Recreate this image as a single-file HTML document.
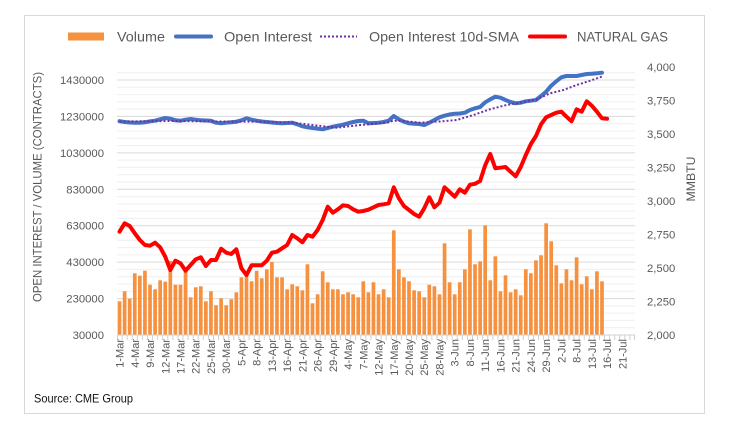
<!DOCTYPE html>
<html><head><meta charset="utf-8"><style>
html,body{margin:0;padding:0;background:#fff;}
svg{display:block;}
text{font-family:"Liberation Sans",Arial,sans-serif;fill:#595959;}
</style></head><body>
<svg width="729" height="432" viewBox="0 0 729 432" xmlns="http://www.w3.org/2000/svg">
<rect x="0" y="0" width="729" height="432" fill="#fff"/>
<rect x="24.5" y="15.5" width="680" height="398" fill="#fff" stroke="#d9d9d9" stroke-width="1"/>

<!-- minor gridlines -->
<g stroke="#efefef" stroke-width="1">
<line x1="117" x2="635" y1="327.71" y2="327.71"/><line x1="117" x2="635" y1="320.43" y2="320.43"/><line x1="117" x2="635" y1="313.14" y2="313.14"/><line x1="117" x2="635" y1="305.86" y2="305.86"/>
<line x1="117" x2="635" y1="291.29" y2="291.29"/><line x1="117" x2="635" y1="284" y2="284"/><line x1="117" x2="635" y1="276.71" y2="276.71"/><line x1="117" x2="635" y1="269.43" y2="269.43"/>
<line x1="117" x2="635" y1="254.86" y2="254.86"/><line x1="117" x2="635" y1="247.57" y2="247.57"/><line x1="117" x2="635" y1="240.29" y2="240.29"/><line x1="117" x2="635" y1="233" y2="233"/>
<line x1="117" x2="635" y1="218.43" y2="218.43"/><line x1="117" x2="635" y1="211.14" y2="211.14"/><line x1="117" x2="635" y1="203.86" y2="203.86"/><line x1="117" x2="635" y1="196.57" y2="196.57"/>
<line x1="117" x2="635" y1="182" y2="182"/><line x1="117" x2="635" y1="174.71" y2="174.71"/><line x1="117" x2="635" y1="167.43" y2="167.43"/><line x1="117" x2="635" y1="160.14" y2="160.14"/>
<line x1="117" x2="635" y1="145.57" y2="145.57"/><line x1="117" x2="635" y1="138.29" y2="138.29"/><line x1="117" x2="635" y1="131" y2="131"/><line x1="117" x2="635" y1="123.71" y2="123.71"/>
<line x1="117" x2="635" y1="109.14" y2="109.14"/><line x1="117" x2="635" y1="101.86" y2="101.86"/><line x1="117" x2="635" y1="94.57" y2="94.57"/><line x1="117" x2="635" y1="87.29" y2="87.29"/>
<line x1="117" x2="635" y1="72.71" y2="72.71"/>
</g>
<!-- major gridlines -->
<g stroke="#d9d9d9" stroke-width="1">
<line x1="117" x2="635" y1="298.57" y2="298.57"/><line x1="117" x2="635" y1="262.14" y2="262.14"/><line x1="117" x2="635" y1="225.71" y2="225.71"/><line x1="117" x2="635" y1="189.29" y2="189.29"/><line x1="117" x2="635" y1="152.86" y2="152.86"/><line x1="117" x2="635" y1="116.43" y2="116.43"/><line x1="117" x2="635" y1="80" y2="80"/>
</g>

<!-- volume bars -->
<g fill="#F6913F">
<rect x="117.69" y="301.3" width="3.7" height="33.7"/><rect x="122.77" y="291.3" width="3.7" height="43.7"/><rect x="127.85" y="298.7" width="3.7" height="36.3"/><rect x="132.93" y="273.3" width="3.7" height="61.7"/><rect x="138.00" y="275.7" width="3.7" height="59.3"/><rect x="143.08" y="270.7" width="3.7" height="64.3"/><rect x="148.16" y="284.7" width="3.7" height="50.3"/><rect x="153.24" y="289.3" width="3.7" height="45.7"/><rect x="158.32" y="280.3" width="3.7" height="54.7"/><rect x="163.40" y="281.7" width="3.7" height="53.3"/>
<rect x="168.47" y="261" width="3.7" height="74"/><rect x="173.55" y="284.7" width="3.7" height="50.3"/><rect x="178.63" y="284.7" width="3.7" height="50.3"/><rect x="183.71" y="271" width="3.7" height="64"/><rect x="188.79" y="297.3" width="3.7" height="37.7"/><rect x="193.87" y="287.3" width="3.7" height="47.7"/><rect x="198.94" y="286.3" width="3.7" height="48.7"/><rect x="204.02" y="301.3" width="3.7" height="33.7"/><rect x="209.10" y="291.3" width="3.7" height="43.7"/><rect x="214.18" y="305.3" width="3.7" height="29.7"/>
<rect x="219.26" y="298.3" width="3.7" height="36.7"/><rect x="224.34" y="305.3" width="3.7" height="29.7"/><rect x="229.41" y="299.3" width="3.7" height="35.7"/><rect x="234.49" y="292.3" width="3.7" height="42.7"/><rect x="239.57" y="277.3" width="3.7" height="57.7"/><rect x="244.65" y="276.3" width="3.7" height="58.7"/><rect x="249.73" y="281.3" width="3.7" height="53.7"/><rect x="254.81" y="270.7" width="3.7" height="64.3"/><rect x="259.89" y="278.3" width="3.7" height="56.7"/><rect x="264.96" y="269.3" width="3.7" height="65.7"/>
<rect x="270.04" y="262" width="3.7" height="73"/><rect x="275.12" y="277.3" width="3.7" height="57.7"/><rect x="280.20" y="277.3" width="3.7" height="57.7"/><rect x="285.28" y="289.3" width="3.7" height="45.7"/><rect x="290.36" y="284.3" width="3.7" height="50.7"/><rect x="295.43" y="286.3" width="3.7" height="48.7"/><rect x="300.51" y="290.3" width="3.7" height="44.7"/><rect x="305.59" y="264.3" width="3.7" height="70.7"/><rect x="310.67" y="303.3" width="3.7" height="31.7"/><rect x="315.75" y="294.3" width="3.7" height="40.7"/>
<rect x="320.83" y="271.3" width="3.7" height="63.7"/><rect x="325.90" y="282.3" width="3.7" height="52.7"/><rect x="330.98" y="289.3" width="3.7" height="45.7"/><rect x="336.06" y="289.3" width="3.7" height="45.7"/><rect x="341.14" y="294.3" width="3.7" height="40.7"/><rect x="346.22" y="292.3" width="3.7" height="42.7"/><rect x="351.30" y="294.3" width="3.7" height="40.7"/><rect x="356.37" y="297.3" width="3.7" height="37.7"/><rect x="361.45" y="281.3" width="3.7" height="53.7"/><rect x="366.53" y="292.3" width="3.7" height="42.7"/>
<rect x="371.61" y="282.3" width="3.7" height="52.7"/><rect x="376.69" y="294.3" width="3.7" height="40.7"/><rect x="381.77" y="289.3" width="3.7" height="45.7"/><rect x="386.85" y="297.3" width="3.7" height="37.7"/><rect x="391.92" y="230.3" width="3.7" height="104.7"/><rect x="397.00" y="269.3" width="3.7" height="65.7"/><rect x="402.08" y="277.3" width="3.7" height="57.7"/><rect x="407.16" y="281.3" width="3.7" height="53.7"/><rect x="412.24" y="290.3" width="3.7" height="44.7"/><rect x="417.32" y="291.3" width="3.7" height="43.7"/>
<rect x="422.39" y="297.3" width="3.7" height="37.7"/><rect x="427.47" y="284.7" width="3.7" height="50.3"/><rect x="432.55" y="286.3" width="3.7" height="48.7"/><rect x="437.63" y="294.3" width="3.7" height="40.7"/><rect x="442.71" y="243.3" width="3.7" height="91.7"/><rect x="447.79" y="282.3" width="3.7" height="52.7"/><rect x="452.86" y="294.3" width="3.7" height="40.7"/><rect x="457.94" y="282.3" width="3.7" height="52.7"/><rect x="463.02" y="269.3" width="3.7" height="65.7"/><rect x="468.10" y="229.3" width="3.7" height="105.7"/>
<rect x="473.18" y="264.3" width="3.7" height="70.7"/><rect x="478.26" y="261.3" width="3.7" height="73.7"/><rect x="483.33" y="225.3" width="3.7" height="109.7"/><rect x="488.41" y="280.3" width="3.7" height="54.7"/><rect x="493.49" y="256.3" width="3.7" height="78.7"/><rect x="498.57" y="291.3" width="3.7" height="43.7"/><rect x="503.65" y="275.3" width="3.7" height="59.7"/><rect x="508.73" y="292.3" width="3.7" height="42.7"/><rect x="513.81" y="289.3" width="3.7" height="45.7"/><rect x="518.88" y="295.3" width="3.7" height="39.7"/>
<rect x="523.96" y="269.3" width="3.7" height="65.7"/><rect x="529.04" y="273.3" width="3.7" height="61.7"/><rect x="534.12" y="260.3" width="3.7" height="74.7"/><rect x="539.20" y="255.3" width="3.7" height="79.7"/><rect x="544.28" y="223.3" width="3.7" height="111.7"/><rect x="549.35" y="241.3" width="3.7" height="93.7"/><rect x="554.43" y="265.3" width="3.7" height="69.7"/><rect x="559.51" y="283.3" width="3.7" height="51.7"/><rect x="564.59" y="269.3" width="3.7" height="65.7"/><rect x="569.67" y="280.3" width="3.7" height="54.7"/>
<rect x="574.75" y="257.3" width="3.7" height="77.7"/><rect x="579.82" y="284.3" width="3.7" height="50.7"/><rect x="584.90" y="276.3" width="3.7" height="58.7"/><rect x="589.98" y="289.3" width="3.7" height="45.7"/><rect x="595.06" y="271.3" width="3.7" height="63.7"/><rect x="600.14" y="281.3" width="3.7" height="53.7"/>
</g>

<!-- x axis line and ticks -->
<line x1="117" x2="635" y1="335" y2="335" stroke="#d0d0d0" stroke-width="1"/>
<path stroke="#d0d0d0" stroke-width="1" fill="none" d="M117.5 335v5M122.08 335v5M127.16 335v5M132.24 335v5M137.31 335v5M142.39 335v5M147.47 335v5M152.55 335v5M157.63 335v5M162.71 335v5M167.78 335v5M172.86 335v5M177.94 335v5M183.02 335v5M188.1 335v5M193.18 335v5M198.25 335v5M203.33 335v5M208.41 335v5M213.49 335v5M218.57 335v5M223.65 335v5M228.73 335v5M233.8 335v5M238.88 335v5M243.96 335v5M249.04 335v5M254.12 335v5M259.2 335v5M264.27 335v5M269.35 335v5M274.43 335v5M279.51 335v5M284.59 335v5M289.67 335v5M294.75 335v5M299.82 335v5M304.9 335v5M309.98 335v5M315.06 335v5M320.14 335v5M325.22 335v5M330.29 335v5M335.37 335v5M340.45 335v5M345.53 335v5M350.61 335v5M355.69 335v5M360.76 335v5M365.84 335v5M370.92 335v5M376 335v5M381.08 335v5M386.16 335v5M391.24 335v5M396.31 335v5M401.39 335v5M406.47 335v5M411.55 335v5M416.63 335v5M421.71 335v5M426.78 335v5M431.86 335v5M436.94 335v5M442.02 335v5M447.1 335v5M452.18 335v5M457.25 335v5M462.33 335v5M467.41 335v5M472.49 335v5M477.57 335v5M482.65 335v5M487.73 335v5M492.8 335v5M497.88 335v5M502.96 335v5M508.04 335v5M513.12 335v5M518.2 335v5M523.27 335v5M528.35 335v5M533.43 335v5M538.51 335v5M543.59 335v5M548.67 335v5M553.75 335v5M558.82 335v5M563.9 335v5M568.98 335v5M574.06 335v5M579.14 335v5M584.22 335v5M589.29 335v5M594.37 335v5M599.45 335v5M604.53 335v5M609.61 335v5M614.69 335v5M619.76 335v5M624.84 335v5M629.92 335v5M634.5 335v5"/>

<!-- Open Interest -->
<polyline fill="none" stroke="#4472C4" stroke-width="4" stroke-linejoin="round" stroke-linecap="round" points="119.54,121.2 124.62,122 129.70,122.5 134.78,122.7 139.85,122.7 144.93,122.3 150.01,121.3 155.09,120.7 160.17,119.3 165.25,118 170.32,118.7 175.40,120.3 180.48,120.7 185.56,119.7 190.64,119 195.72,119.7 200.79,120.3 205.87,120.5 210.95,120.8 216.03,122.7 221.11,123.3 226.19,122.7 231.26,122.2 236.34,121.7 241.42,120.3 246.50,118.3 251.58,119.7 256.66,120.7 261.74,121.5 266.81,122 271.89,122.5 276.97,123 282.05,123.3 287.13,123 292.21,122.7 297.28,124.3 302.36,126.3 307.44,127.3 312.52,128 317.60,128.7 322.68,129.3 327.75,128 332.83,126.7 337.91,125.7 342.99,124.7 348.07,123.3 353.15,122 358.22,121 363.30,120.7 368.38,123.3 373.46,123 378.54,122.7 383.62,122 388.70,120.7 393.77,116 398.85,119.3 403.93,121.7 409.01,123.3 414.09,123.7 419.17,124 424.24,125 429.32,122.7 434.40,120 439.48,117.3 444.56,115.7 449.64,114.5 454.71,113.7 459.79,113.5 464.87,112.7 469.95,110 475.03,108.3 480.11,107 485.18,102.3 490.26,99.3 495.34,96.7 500.42,97.7 505.50,100 510.58,102 515.66,103.3 520.73,102.7 525.81,101.3 530.89,100.7 535.97,100 541.05,96 546.13,91.7 551.20,85.7 556.28,81.3 561.36,77.3 566.44,76 571.52,76 576.60,76 581.67,75 586.75,74 591.83,73.7 596.91,73.3 601.99,72.7"/>

<!-- SMA dotted -->
<polyline fill="none" stroke="#7030A0" stroke-width="2" stroke-dasharray="2 2" points="119.54,121.5 170.32,121 221.11,121.5 260.21,121.7 293.22,122.7 326.74,126.7 336.90,127.7 360.26,125 386.66,122.7 393.26,120.7 399.87,120.7 420.18,122.7 433.39,121.7 439.99,121.5 456.75,120 473.50,115 489.75,109.3 506.51,105 516.67,103.3 536.47,99.3 550.18,93.3 563.39,90 576.60,85 590.31,80.7 601.99,76.5"/>

<!-- Natural gas -->
<polyline fill="none" stroke="#FF0000" stroke-width="4" stroke-linejoin="round" stroke-linecap="round" points="119.54,231.7 124.62,223.3 129.70,226 134.78,233.3 139.85,240 144.93,245 150.01,245.7 155.09,242.7 160.17,247.3 165.25,256.7 170.32,270 175.40,260.7 180.48,263.3 185.56,270.7 190.64,265 195.72,259.3 200.79,257.3 205.87,266 210.95,260 216.03,260 221.11,248.7 226.19,252.7 231.26,254 236.34,249.3 241.42,268.3 246.50,275 251.58,265.3 256.66,265.3 261.74,265.3 266.81,260.7 271.89,252.7 276.97,251.7 282.05,248.3 287.13,245 292.21,235 297.28,238.3 302.36,242.3 307.44,235 312.52,236.7 317.60,230 322.68,220 327.75,206.7 332.83,212.7 337.91,209.3 342.99,205.3 348.07,206 353.15,209.3 358.22,211.7 363.30,211 368.38,209.7 373.46,207.3 378.54,205 383.62,204.3 388.70,203.3 393.77,187.3 398.85,198.3 403.93,206 409.01,210 414.09,214 419.17,216.7 424.24,208.3 429.32,197.3 434.40,207.3 439.48,202.7 444.56,187.3 449.64,192 454.71,196.7 459.79,189.3 464.87,192.7 469.95,184.7 475.03,183.8 480.11,181 485.18,165.3 490.26,154 495.34,168.3 500.42,167.7 505.50,167 510.58,171.7 515.66,176.3 520.73,167 525.81,155 530.89,144 535.97,136 541.05,124.3 546.13,117.3 551.20,115 556.28,112.7 561.36,111.7 566.44,116.7 571.52,121.3 576.60,109.3 581.67,111.7 586.75,101.3 591.83,105.7 596.91,111.7 601.99,118.3 607.07,118.7"/>

<!-- left tick labels -->
<g font-size="11.3" text-anchor="end">
<text x="104" y="84">1430000</text>
<text x="104" y="120.4">1230000</text>
<text x="104" y="156.9">1030000</text>
<text x="104" y="193.3">830000</text>
<text x="104" y="229.7">630000</text>
<text x="104" y="266.1">430000</text>
<text x="104" y="302.6">230000</text>
<text x="104" y="339">30000</text>
</g>
<!-- right tick labels -->
<g font-size="11.3" text-anchor="start">
<text x="647" y="71">4,000</text>
<text x="647" y="104.5">3,750</text>
<text x="647" y="138">3,500</text>
<text x="647" y="171.5">3,250</text>
<text x="647" y="205">3,000</text>
<text x="647" y="238.5">2,750</text>
<text x="647" y="272">2,500</text>
<text x="647" y="305.5">2,250</text>
<text x="647" y="339">2,000</text>
</g>

<!-- axis titles -->
<text transform="translate(41.5,187) rotate(-90)" font-size="12" text-anchor="middle" textLength="230" lengthAdjust="spacingAndGlyphs">OPEN INTEREST / VOLUME (CONTRACTS)</text>
<text transform="translate(695,179) rotate(-90)" font-size="12.3" text-anchor="middle" textLength="45" lengthAdjust="spacingAndGlyphs">MMBTU</text>

<!-- x labels -->
<g font-size="11" text-anchor="end">
<text transform="translate(123.5,339) rotate(-90)">1-Mar</text>
<text transform="translate(138.8,339) rotate(-90)">4-Mar</text>
<text transform="translate(154,339) rotate(-90)">9-Mar</text>
<text transform="translate(169.3,339) rotate(-90)">12-Mar</text>
<text transform="translate(184.5,339) rotate(-90)">17-Mar</text>
<text transform="translate(199.7,339) rotate(-90)">22-Mar</text>
<text transform="translate(215,339) rotate(-90)">25-Mar</text>
<text transform="translate(230.2,339) rotate(-90)">30-Mar</text>
<text transform="translate(245.4,339) rotate(-90)">5-Apr</text>
<text transform="translate(260.7,339) rotate(-90)">8-Apr</text>
<text transform="translate(275.9,339) rotate(-90)">13-Apr</text>
<text transform="translate(291.1,339) rotate(-90)">16-Apr</text>
<text transform="translate(306.4,339) rotate(-90)">21-Apr</text>
<text transform="translate(321.6,339) rotate(-90)">26-Apr</text>
<text transform="translate(336.8,339) rotate(-90)">29-Apr</text>
<text transform="translate(352.1,339) rotate(-90)">4-May</text>
<text transform="translate(367.3,339) rotate(-90)">7-May</text>
<text transform="translate(382.5,339) rotate(-90)">12-May</text>
<text transform="translate(397.8,339) rotate(-90)">17-May</text>
<text transform="translate(413,339) rotate(-90)">20-May</text>
<text transform="translate(428.2,339) rotate(-90)">25-May</text>
<text transform="translate(443.5,339) rotate(-90)">28-May</text>
<text transform="translate(458.7,339) rotate(-90)">3-Jun</text>
<text transform="translate(474,339) rotate(-90)">8-Jun</text>
<text transform="translate(489.2,339) rotate(-90)">11-Jun</text>
<text transform="translate(504.4,339) rotate(-90)">16-Jun</text>
<text transform="translate(519.7,339) rotate(-90)">21-Jun</text>
<text transform="translate(534.9,339) rotate(-90)">24-Jun</text>
<text transform="translate(550.1,339) rotate(-90)">29-Jun</text>
<text transform="translate(565.4,339) rotate(-90)">2-Jul</text>
<text transform="translate(580.6,339) rotate(-90)">8-Jul</text>
<text transform="translate(595.8,339) rotate(-90)">13-Jul</text>
<text transform="translate(611.1,339) rotate(-90)">16-Jul</text>
<text transform="translate(626.3,339) rotate(-90)">21-Jul</text>
</g>

<!-- legend -->
<rect x="68" y="32.5" width="36" height="8" fill="#F6913F"/>
<line x1="176" y1="36.5" x2="211" y2="36.5" stroke="#4472C4" stroke-width="4" stroke-linecap="round"/>
<line x1="320" y1="36.5" x2="357" y2="36.5" stroke="#7030A0" stroke-width="2" stroke-dasharray="2 2"/>
<line x1="530" y1="36.5" x2="565" y2="36.5" stroke="#FF0000" stroke-width="4" stroke-linecap="round"/>
<g font-size="14">
<text x="117" y="41.5" textLength="48" lengthAdjust="spacingAndGlyphs">Volume</text>
<text x="224" y="41.5" textLength="88" lengthAdjust="spacingAndGlyphs">Open Interest</text>
<text x="369" y="41.5" textLength="150" lengthAdjust="spacingAndGlyphs">Open Interest 10d-SMA</text>
<text x="577" y="41.5" textLength="91" lengthAdjust="spacingAndGlyphs">NATURAL GAS</text>
</g>

<!-- source -->
<text x="34" y="402.5" font-size="12" style="fill:#111;" textLength="99" lengthAdjust="spacingAndGlyphs">Source: CME Group</text>
</svg>
</body></html>
